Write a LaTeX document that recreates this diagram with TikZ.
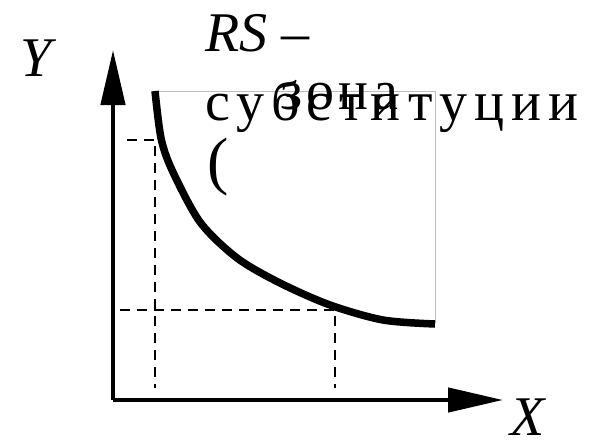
\documentclass[tikz,border=0pt]{standalone}
\usepackage{fontspec}
\setmainfont{Liberation Serif}
\usepackage{tikz}
\usetikzlibrary{arrows.meta, calc}
\definecolor{framegray}{RGB}{190,190,190}

\begin{document}
\begin{tikzpicture}[
  x=1pt, y=-1pt,
  axis/.style={-{Triangle[length=55pt, width=24pt]}, line width=4.5pt},
  curve/.style={line width=7.5pt, line join=round},
  guide/.style={line width=2.4pt, dash pattern=on 10pt off 7pt},
  frame/.style={draw=framegray, line width=0.8pt},
  lbl/.style={anchor=base west, inner sep=0pt, font=\fontsize{56}{60}\selectfont}
]
\useasboundingbox (0,0) rectangle (601,441);

% axes
\coordinate (origin) at (113,400);
\coordinate (ytip) at (113,50);
\coordinate (xtip) at (503,400);
\draw[axis] (origin) -- (ytip);
\draw[axis] (origin) -- (xtip);

% frame of the zone
\coordinate (ftl) at (155,91);
\coordinate (ftr) at (435,91);
\coordinate (fbr) at (435,323);
\draw[frame] (ftl) -- (ftr) -- (fbr);

% guide lines
\coordinate (pa) at (155,140);
\coordinate (pb) at (335,310);
\draw[guide] (127,140) -- (pa) -- (155,388);
\draw[guide] (120,310) -- (pb) -- (335,388);

% indifference curve
\draw[curve] plot[smooth, tension=0.5] coordinates {
  (155,91) (161,138) (172,170) (200,222) (237,258) (280,283)
  (330,305) (383,320) (435,324)};

% labels
\node[lbl] (ylbl) at (20,77) {\textit{Y}};
\node[lbl] (xlbl) at (510,435) {\textit{X}};
\node[lbl] (rs) at (205,52) {\textit{RS} –};
\node[lbl] (zona) at (280,110) {\addfontfeature{LetterSpace=8}зона};
\node[lbl] (subst) at (205,120) {\addfontfeature{LetterSpace=13}субституции};
\node[lbl] (paren) at (207,182) {\fontsize{64}{66}\selectfont(};

\end{tikzpicture}
\end{document}
